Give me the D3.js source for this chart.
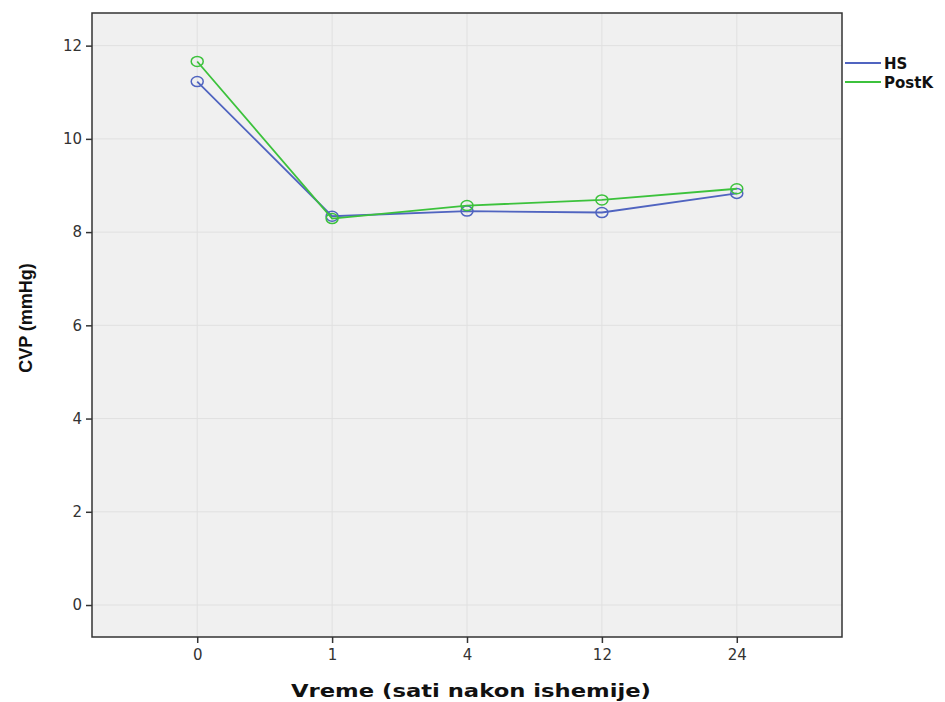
<!DOCTYPE html>
<html><head><meta charset="utf-8">
<script src="https://cdn.jsdelivr.net/npm/d3@7"></script>
<style>body{margin:0;background:#fff;} svg{display:block;font-family:Arial, "Liberation Sans", sans-serif;}</style>
</head><body>
<svg id="c" width="945" height="702"></svg>
<script>
const categories = ["0","1","4","12","24"];
const hsValues = [11.23, 8.34, 8.45, 8.42, 8.83];
const postkValues = [11.66, 8.29, 8.57, 8.69, 8.93];
const yTicks = [0,2,4,6,8,10,12];
const seriesNames = ["HS","PostK"];
const seriesColors = ["#5064c0","#3cc23c"];

const svg = d3.select("#c");
const L=92, R=842, T=13, B=637;
const x = d3.scalePoint().domain(categories).range([L,R]).padding(0.78);
const y = d3.scaleLinear().domain([-0.686, 12.7]).range([B,T]);

svg.append("rect").attr("x",L).attr("y",T).attr("width",R-L).attr("height",B-T).attr("fill","#f0f0f0");
// grid
svg.append("g").selectAll("line").data(yTicks).join("line")
  .attr("x1",L).attr("x2",R).attr("y1",d=>y(d)).attr("y2",d=>y(d)).attr("stroke","#e0e0e0").attr("stroke-width",1);
svg.append("g").selectAll("line").data(categories).join("line")
  .attr("y1",T).attr("y2",B).attr("x1",d=>x(d)).attr("x2",d=>x(d)).attr("stroke","#e0e0e0").attr("stroke-width",1);
// frame
svg.append("rect").attr("x",L).attr("y",T).attr("width",R-L).attr("height",B-T).attr("fill","none").attr("stroke","#333").attr("stroke-width",1.5);

const yAxis = svg.append("g").attr("transform",`translate(${L},0)`).call(d3.axisLeft(y).tickValues(yTicks).tickSize(6).tickPadding(4));
const xAxis = svg.append("g").attr("transform",`translate(0,${B})`).call(d3.axisBottom(x).tickSize(6).tickPadding(6));
[yAxis,xAxis].forEach(a=>{a.select(".domain").remove(); a.selectAll("line").attr("stroke","#333").attr("stroke-width",1.5); a.selectAll("text").attr("fill","#333").style("font-size","15px").style("font-family","'DejaVu Sans', Verdana, sans-serif");});

const series = [hsValues, postkValues];
const line = d3.line().x((d,i)=>x(categories[i])).y(d=>y(d));
series.forEach((vals,si)=>{
  svg.append("path").datum(vals).attr("d",line).attr("fill","none").attr("stroke",seriesColors[si]).attr("stroke-width",1.8);
  svg.append("g").selectAll("ellipse").data(vals).join("ellipse")
    .attr("cx",(d,i)=>x(categories[i])).attr("cy",d=>y(d)).attr("rx",6).attr("ry",5)
    .attr("fill","none").attr("stroke",seriesColors[si]).attr("stroke-width",1.5);
});

// legend
const lg = svg.append("g");
seriesNames.forEach((n,i)=>{
  const yy = 63 + i*19;
  lg.append("line").attr("x1",845).attr("x2",881).attr("y1",yy).attr("y2",yy).attr("stroke",seriesColors[i]).attr("stroke-width",1.8);
  lg.append("text").attr("x",884).attr("y",yy+5.5).text(n).attr("font-weight","bold").style("font-size","15px")
    .style("font-family","'DejaVu Sans', Verdana, sans-serif").attr("fill","#111");
});

svg.append("text").attr("transform",`translate(32,318) rotate(-90)`).attr("text-anchor","middle")
  .attr("font-weight","bold").style("font-size","18px").attr("fill","#111").text("CVP (mmHg)");
svg.append("text").attr("x",471).attr("y",697).attr("text-anchor","middle")
  .attr("font-weight","bold").style("font-size","18px").style("font-family","'DejaVu Sans', Verdana, sans-serif")
  .attr("textLength",360).attr("lengthAdjust","spacingAndGlyphs")
  .attr("fill","#111").text("Vreme (sati nakon ishemije)");
</script>
</body></html>
